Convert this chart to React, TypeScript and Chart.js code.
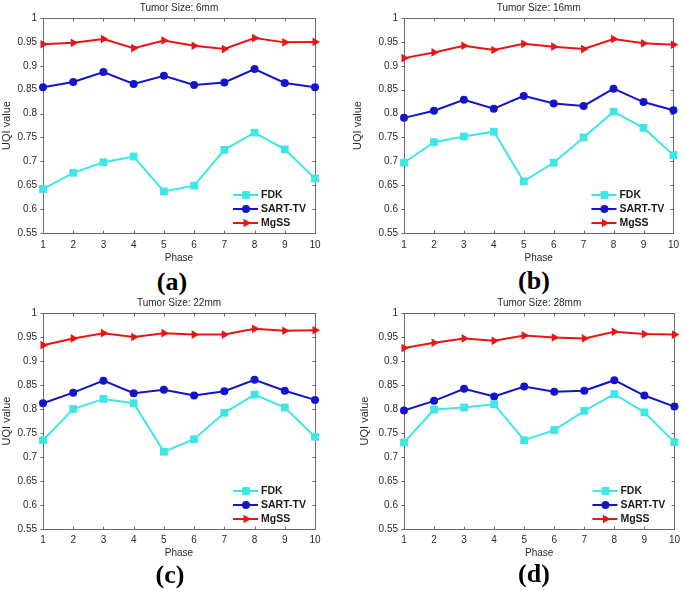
import React, { useEffect, useRef } from 'react';
import { Chart, registerables } from 'chart.js';

Chart.register(...registerables);

// ---------- data ----------
const phases = ['1', '2', '3', '4', '5', '6', '7', '8', '9', '10'];
const seriesNames = ['FDK', 'SART-TV', 'MgSS'];

const titleA = 'Tumor Size: 6mm';
const fdkA = [0.642, 0.676, 0.698, 0.71, 0.637, 0.649, 0.724, 0.76, 0.725, 0.664];
const sartA = [0.855, 0.866, 0.887, 0.862, 0.879, 0.86, 0.865, 0.893, 0.864, 0.855];
const mgssA = [0.945, 0.948, 0.956, 0.937, 0.953, 0.942, 0.935, 0.958, 0.949, 0.95];

const titleB = 'Tumor Size: 16mm';
const fdkB = [0.697, 0.74, 0.752, 0.762, 0.658, 0.697, 0.75, 0.804, 0.77, 0.713];
const sartB = [0.791, 0.806, 0.829, 0.81, 0.837, 0.821, 0.816, 0.852, 0.824, 0.807];
const mgssB = [0.916, 0.928, 0.942, 0.933, 0.946, 0.94, 0.935, 0.956, 0.947, 0.944];

const titleC = 'Tumor Size: 22mm';
const fdkC = [0.735, 0.8, 0.821, 0.812, 0.711, 0.737, 0.792, 0.83, 0.803, 0.742];
const sartC = [0.812, 0.834, 0.859, 0.833, 0.84, 0.828, 0.837, 0.861, 0.838, 0.819];
const mgssC = [0.933, 0.947, 0.958, 0.95, 0.958, 0.955, 0.955, 0.967, 0.963, 0.964];

const titleD = 'Tumor Size: 28mm';
const fdkD = [0.73, 0.799, 0.803, 0.81, 0.735, 0.756, 0.796, 0.831, 0.793, 0.731];
const sartD = [0.797, 0.817, 0.842, 0.826, 0.847, 0.836, 0.838, 0.86, 0.828, 0.805];
const mgssD = [0.927, 0.938, 0.947, 0.942, 0.953, 0.949, 0.947, 0.961, 0.956, 0.955];

const yMin = 0.55;
const yMax = 1;
const yStep = 0.05;
const xTitle = 'Phase';
const yTitle = 'UQI value';
const panelLabels = ['(a)', '(b)', '(c)', '(d)'];

// ---------- styles ----------
const COLORS = ['#3ee6e6', '#1414cc', '#e81515'];
const STYLES = ['rect', 'circle', 'triangle'];
const RADII = [5.5, 4, 5];
const ROTS = [0, 0, 90];
const AXIS = '#6a6a6a';
const TEXT = '#2a2a2a';
const FONT = "'Liberation Sans', Arial, sans-serif";

type Geo = { left: number; top: number; w: number; h: number; l: number; r: number; t: number; b: number; yt: number; xpad: number };

function drawMarker(ctx: CanvasRenderingContext2D, i: number, x: number, y: number) {
  ctx.fillStyle = COLORS[i];
  ctx.beginPath();
  if (STYLES[i] === 'rect') {
    const s = RADII[i] * Math.SQRT1_2;
    ctx.rect(x - s, y - s, 2 * s, 2 * s);
  } else if (STYLES[i] === 'circle') {
    ctx.arc(x, y, RADII[i], 0, Math.PI * 2);
  } else {
    const r = RADII[i];
    ctx.moveTo(x + r, y);
    ctx.lineTo(x - r * 0.5, y - r * 0.866);
    ctx.lineTo(x - r * 0.5, y + r * 0.866);
    ctx.closePath();
  }
  ctx.fill();
}

const framePlugin = {
  id: 'matlabFrame',
  beforeDatasetsDraw(chart: any) {
    const { ctx, chartArea } = chart;
    const { left, right, top, bottom } = chartArea;
    ctx.save();
    ctx.strokeStyle = AXIS;
    ctx.lineWidth = 1;
    const L = Math.round(left) + 0.5, R = Math.round(right) + 0.5;
    const T = Math.round(top) + 0.5, B = Math.round(bottom) + 0.5;
    ctx.strokeRect(L, T, R - L, B - T);
    const xs = chart.scales.x, ys = chart.scales.y;
    ctx.beginPath();
    xs.ticks.forEach((_t: any, i: number) => {
      const px = Math.round(xs.getPixelForTick(i)) + 0.5;
      ctx.moveTo(px, B); ctx.lineTo(px, B - 3);
      ctx.moveTo(px, T); ctx.lineTo(px, T + 3);
    });
    ys.ticks.forEach((t: any) => {
      const py = Math.round(ys.getPixelForValue(t.value)) + 0.5;
      ctx.moveTo(L, py); ctx.lineTo(L - 3, py);
      ctx.moveTo(R, py); ctx.lineTo(R - 3, py);
    });
    ctx.stroke();
    ctx.restore();
  },
  afterDraw(chart: any) {
    const { ctx, chartArea } = chart;
    const { left, right, top, bottom } = chartArea;
    const title = chart.options.plugins.matlabFrame.title;
    ctx.save();
    ctx.fillStyle = TEXT;
    ctx.font = `10px ${FONT}`;
    ctx.textAlign = 'center';
    ctx.textBaseline = 'middle';
    ctx.fillText(title, (left + right) / 2, top - 10);
    // legend
    const rows = [-38, -24, -10];
    seriesNames.forEach((name, i) => {
      const y = bottom + rows[i];
      ctx.strokeStyle = COLORS[i];
      ctx.lineWidth = 2;
      ctx.beginPath();
      ctx.moveTo(right - 82, y);
      ctx.lineTo(right - 57, y);
      ctx.stroke();
      drawMarker(ctx, i, right - 69, y);
      ctx.fillStyle = '#1a1a1a';
      ctx.font = `bold 10.5px ${FONT}`;
      ctx.textAlign = 'left';
      ctx.fillText(name, right - 54, y + 0.5);
    });
    ctx.restore();
  },
};

function Panel({ geo, title, series, label, labelPos }: { geo: Geo; title: string; series: number[][]; label: string; labelPos: [number, number] }) {
  const ref = useRef<HTMLCanvasElement>(null);
  useEffect(() => {
    const canvas = ref.current!;
    const chart = new Chart(canvas, {
      type: 'line',
      data: {
        labels: phases,
        datasets: series.map((d, i) => ({
          label: seriesNames[i],
          data: d,
          borderColor: COLORS[i],
          backgroundColor: COLORS[i],
          borderWidth: 2,
          pointStyle: STYLES[i] as any,
          pointRadius: RADII[i],
          pointRotation: ROTS[i],
          pointBorderWidth: 0,
          pointBackgroundColor: COLORS[i],
          tension: 0,
          clip: false as any,
        })),
      },
      options: {
        animation: false,
        responsive: false,
        devicePixelRatio: 1,
        layout: { padding: { left: 0, right: geo.w - geo.r, top: geo.t, bottom: 0 } },
        plugins: {
          legend: { display: false },
          tooltip: { enabled: false },
          title: { display: false },
          matlabFrame: { title },
        } as any,
        scales: {
          x: {
            type: 'category',
            offset: false,
            grid: { display: false, drawTicks: false },
            border: { display: false },
            ticks: { color: TEXT, font: { size: 10, family: FONT }, padding: geo.xpad, autoSkip: false, maxRotation: 0 },
            title: { display: true, text: xTitle, color: TEXT, font: { size: 10, family: FONT }, padding: { top: 0, bottom: 2 } },
            afterFit: (s: any) => { s.height = geo.h - geo.b; },
          },
          y: {
            min: yMin,
            max: yMax,
            grid: { display: false, drawTicks: false },
            border: { display: false },
            ticks: {
              stepSize: yStep,
              color: TEXT,
              font: { size: 10, family: FONT },
              padding: 6,
              callback: (v: any) => String(Math.round(Number(v) * 100) / 100),
            },
            title: { display: true, text: yTitle, color: TEXT, font: { size: 11, family: FONT }, padding: { top: Math.max(0, geo.yt - 6.6), bottom: 0 } },
            afterFit: (s: any) => { s.width = geo.l; },
          },
        },
      },
      plugins: [framePlugin as any],
    });
    return () => chart.destroy();
  }, []);
  return (
    <>
      <canvas
        ref={ref}
        width={geo.w}
        height={geo.h}
        style={{ position: 'absolute', left: geo.left, top: geo.top, width: geo.w, height: geo.h }}
      />
      <div
        style={{
          position: 'absolute',
          left: labelPos[0] - 40,
          top: labelPos[1] - 14,
          width: 80,
          textAlign: 'center',
          font: "bold 26px 'Liberation Serif', 'Times New Roman', serif",
          lineHeight: '28px',
          color: '#000',
        }}
      >
        {label}
      </div>
    </>
  );
}

export default function App() {
  const gA: Geo = { left: 0, top: 0, w: 345, h: 266, l: 43, r: 315, t: 18, b: 233, yt: 6.5, xpad: 6 };
  const gB: Geo = { left: 345, top: 0, w: 340, h: 266, l: 59, r: 332, t: 18, b: 233, yt: 13, xpad: 6 };
  const gC: Geo = { left: 0, top: 290, w: 345, h: 271, l: 43, r: 315, t: 23, b: 239, yt: 7, xpad: 5 };
  const gD: Geo = { left: 345, top: 290, w: 340, h: 271, l: 59, r: 332, t: 23, b: 239, yt: 20, xpad: 5 };
  return (
    <div style={{ position: 'absolute', left: 0, top: 0, width: 685, height: 591, background: '#fff', overflow: 'hidden' }}>
      <Panel geo={gA} title={titleA} series={[fdkA, sartA, mgssA]} label={panelLabels[0]} labelPos={[172, 282]} />
      <Panel geo={gB} title={titleB} series={[fdkB, sartB, mgssB]} label={panelLabels[1]} labelPos={[534, 281]} />
      <Panel geo={gC} title={titleC} series={[fdkC, sartC, mgssC]} label={panelLabels[2]} labelPos={[170, 575]} />
      <Panel geo={gD} title={titleD} series={[fdkD, sartD, mgssD]} label={panelLabels[3]} labelPos={[534, 574]} />
    </div>
  );
}
